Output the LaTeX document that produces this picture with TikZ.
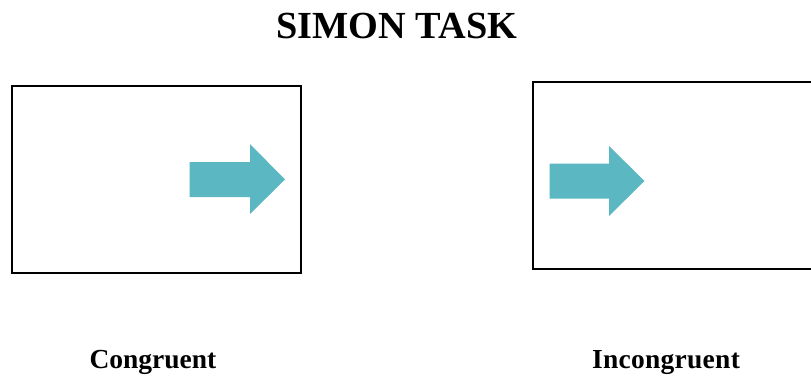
\documentclass[tikz,border=0pt]{standalone}
\usepackage{fontspec}
\setmainfont{Liberation Serif}
\definecolor{arrowteal}{HTML}{5BB8C2}
\begin{document}
\begin{tikzpicture}[x=1pt,y=-1pt,
  screen/.style={draw=black,line width=1.6pt},
  cue/.style={fill=arrowteal,draw=none},
  caption/.style={font=\bfseries\fontsize{27.5}{32}\selectfont,anchor=base,inner sep=0pt},
  heading/.style={font=\bfseries\fontsize{38.3}{44}\selectfont,anchor=base,inner sep=0pt}]
\useasboundingbox (0,0) rectangle (811,376);
% title
\node[heading] (title) at (397,38.5) {SIMON TASK};
% left screen: arrow on the right side
\draw[screen] (12,86) rectangle (301,273);
\fill[cue] (189.5,162) -- (250,162) -- (250,144) -- (285,179.5) -- (250,214) -- (250,197) -- (189.5,197) -- cycle;
% right screen: arrow on the left side (frame runs past the edge)
\draw[screen] (533,82) rectangle (830,269);
\fill[cue] (549.5,163.5) -- (609,163.5) -- (609,146) -- (644.5,181) -- (609,216) -- (609,198.5) -- (549.5,198.5) -- cycle;
% captions
\node[caption] (cong) at (153,368) {Congruent};
\node[caption,font=\bfseries\fontsize{27.5}{32}\selectfont\addfontfeature{LetterSpace=1}] (incong) at (666,368) {Incongruent};
\end{tikzpicture}
\end{document}
